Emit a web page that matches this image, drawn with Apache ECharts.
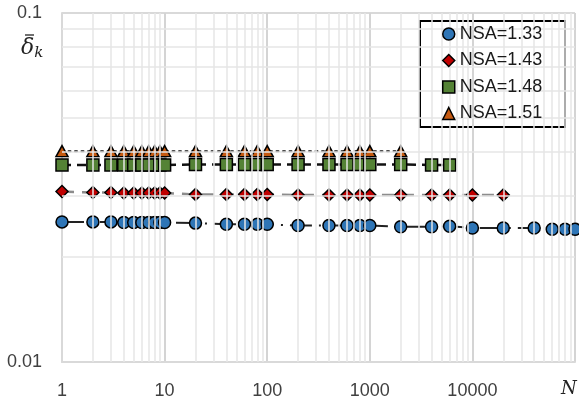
<!DOCTYPE html>
<html>
<head>
<meta charset="utf-8">
<script src="https://cdn.jsdelivr.net/npm/echarts@6/dist/echarts.min.js"></script>
<style>
  html, body { margin: 0; padding: 0; background: #fff; }
  #chart { width: 579px; height: 403px; }
</style>
</head>
<body>
<div id="chart"></div>
<script>
// N values and mean error per NSA setting
const nCircle = [1, 2, 3, 4, 5, 6, 7, 8, 9, 10, 20, 40, 60, 80, 100, 200, 400, 600, 800, 1000,
  2000, 4000, 6000, 10000, 20000, 40000, 60000, 80000, 100000]
const vCircle = [0.0252, 0.0252, 0.0252, 0.0251, 0.0251, 0.0251, 0.0251, 0.0251, 0.0251, 0.0251,
  0.0250, 0.0248, 0.0248, 0.0248, 0.0248, 0.0246, 0.0246, 0.0246, 0.0246, 0.0246,
  0.0244, 0.0244, 0.0245, 0.0242, 0.0242, 0.0242, 0.0240, 0.0240, 0.0240]

const nDiamond = [1, 2, 3, 4, 5, 6, 7, 8, 9, 10, 20, 40, 60, 80, 100, 200, 400, 600, 800, 1000,
  2000, 4000, 6000, 10000, 20000]
const vDiamond = [0.0308, 0.0306, 0.0306, 0.0305, 0.0305, 0.0305, 0.0305, 0.0305, 0.0305, 0.0305,
  0.0302, 0.0302, 0.0302, 0.0302, 0.0302, 0.0301, 0.0301, 0.0301, 0.0301, 0.0301,
  0.0301, 0.0301, 0.0301, 0.0301, 0.0301]

const nSquare = [1, 2, 3, 4, 5, 6, 7, 8, 9, 10, 20, 40, 60, 80, 100, 200, 400, 600, 800, 1000,
  2000, 4000, 6000]
const vSquare = [0.0367, 0.0367, 0.0367, 0.0367, 0.0367, 0.0367, 0.0367, 0.0367, 0.0367, 0.0367,
  0.0368, 0.0368, 0.0368, 0.0368, 0.0368, 0.0368, 0.0368, 0.0368, 0.0368, 0.0368,
  0.0368, 0.0367, 0.0367]

const nTriangle = [1, 2, 3, 4, 5, 6, 7, 8, 9, 10, 20, 40, 60, 80, 100, 200, 400, 600, 800, 1000, 2000]
const vTriangle = [0.0402, 0.0402, 0.0402, 0.0402, 0.0402, 0.0402, 0.0402, 0.0402, 0.0402, 0.0402,
  0.0402, 0.0402, 0.0402, 0.0402, 0.0402, 0.0402, 0.0402, 0.0402, 0.0402, 0.0402, 0.0402]

const names = ['NSA=1.33', 'NSA=1.43', 'NSA=1.48', 'NSA=1.51']
const colors = ['#2E75B6', '#C00000', '#548235', '#C55A11']
const symbols = ['circle', 'diamond', 'rect', 'triangle']
const xTicks = [1, 10, 100, 1000, 10000]

const font = 'Liberation Sans'
const zip = (xs, ys) => xs.map((x, i) => [x, ys[i]])

// minor grid lines, Excel style (2..9 in each decade)
const xMinor = []
for (let d = 1; d <= 10000; d *= 10) {
  for (let m = 2; m <= 9; m++) xMinor.push({ xAxis: m * d })
}
const yMinor = []
for (let m = 2; m <= 9; m++) yMinor.push({ yAxis: m / 100 })

const chart = echarts.init(document.getElementById('chart'))

const mk = (i, data, size, line) => ({
  name: names[i],
  type: 'line',
  data,
  symbol: symbols[i],
  symbolSize: size,
  showSymbol: true,
  showAllSymbol: true,
  z: 3,
  itemStyle: { color: colors[i], borderColor: '#000', borderWidth: 1.5, borderType: 'solid' },
  lineStyle: line,
  emphasis: { disabled: true }
})

chart.setOption({
  animation: false,
  grid: { left: 62, right: 4, top: 13, bottom: 41 },
  xAxis: {
    type: 'log',
    logBase: 10,
    min: 1,
    max: 100000,
    axisLine: { lineStyle: { color: '#d9d9d9', width: 2 } },
    axisTick: { show: false },
    axisLabel: {
      margin: 20,
      fontSize: 18,
      fontFamily: font,
      color: '#404040',
      formatter: v => (xTicks.includes(Math.round(v)) ? String(Math.round(v)) : '')
    },
    splitLine: { show: true, lineStyle: { color: '#d4d4d4', width: 2 } }
  },
  yAxis: {
    type: 'log',
    logBase: 10,
    min: 0.01,
    max: 0.1,
    axisLine: { show: true, lineStyle: { color: '#d9d9d9', width: 2 } },
    axisTick: { show: false },
    axisLabel: {
      margin: 20,
      fontSize: 18,
      fontFamily: font,
      color: '#404040',
      formatter: v => String(+v.toPrecision(4))
    },
    splitLine: { show: true, lineStyle: { color: '#d9d9d9', width: 2 } }
  },
  legend: {
    orient: 'vertical',
    left: 420,
    top: 21,
    padding: [3, 22, 4, 22],
    itemGap: 6.5,
    itemWidth: 12,
    itemHeight: 12,
    borderWidth: 0,
    z: 10,
    textStyle: { fontSize: 18, fontFamily: font, color: '#1a1a1a', lineHeight: 20 },
    data: names.map((name, i) => ({
      name,
      icon: symbols[i],
      itemStyle: { color: colors[i], borderColor: '#000', borderWidth: 1.5, borderType: 'solid' },
      lineStyle: { width: 0, opacity: 0, type: 'solid' }
    }))
  },
  graphic: [
    {
      // legend frame, drawn as four solid edges
      type: 'group',
      z: 5,
      children: [
        { type: 'rect', shape: { x: 420, y: 21, width: 145, height: 106 }, style: { fill: '#fff' } },
        { type: 'rect', shape: { x: 419, y: 20, width: 147, height: 2 }, style: { fill: '#000' } },
        { type: 'rect', shape: { x: 419, y: 126, width: 147, height: 2 }, style: { fill: '#000' } },
        { type: 'rect', shape: { x: 419, y: 20, width: 2, height: 108 }, style: { fill: '#000' } },
        { type: 'rect', shape: { x: 564, y: 20, width: 2, height: 108 }, style: { fill: '#000' } }
      ]
    },
    {
      type: 'text',
      left: 21,
      top: 37,
      style: {
        text: '{d|δ}{k|k}',
        rich: {
          d: { fontFamily: 'DejaVu Serif', fontStyle: 'italic', fontSize: 22, fill: '#222' },
          k: { fontFamily: 'DejaVu Serif', fontStyle: 'italic', fontSize: 15, fill: '#222', padding: [10, 0, 0, 0] }
        }
      }
    },
    {
      // the bar over delta
      type: 'line',
      shape: { x1: 25, y1: 35, x2: 34, y2: 35 },
      style: { stroke: '#222', lineWidth: 1.3 }
    },
    {
      type: 'text',
      left: 561,
      top: 380,
      style: { text: 'N', fontFamily: 'DejaVu Serif', fontStyle: 'italic', fontSize: 18, fill: '#222' }
    }
  ],
  series: [
    {
      name: 'grid',
      type: 'line',
      data: [],
      z: 1,
      silent: true,
      markLine: {
        silent: true,
        symbol: 'none',
        label: { show: false },
        lineStyle: { color: '#e6e6e6', width: 1.5, type: 'solid' },
        emphasis: { disabled: true },
        data: xMinor.concat(yMinor)
      }
    },
    mk(0, zip(nCircle, vCircle), 12, { color: '#222', width: 2, type: [22, 7, 2, 7] }),
    mk(1, zip(nDiamond, vDiamond), 12, { color: '#8c8c8c', width: 2.5, type: [12, 8] }),
    mk(2, zip(nSquare, vSquare), 12, { color: '#111', width: 2.5, type: [9, 6] }),
    mk(3, zip(nTriangle, vTriangle), [12, 11], { color: '#111', width: 2, type: [2, 4.5], cap: 'round' })
  ]
})
</script>
</body>
</html>
